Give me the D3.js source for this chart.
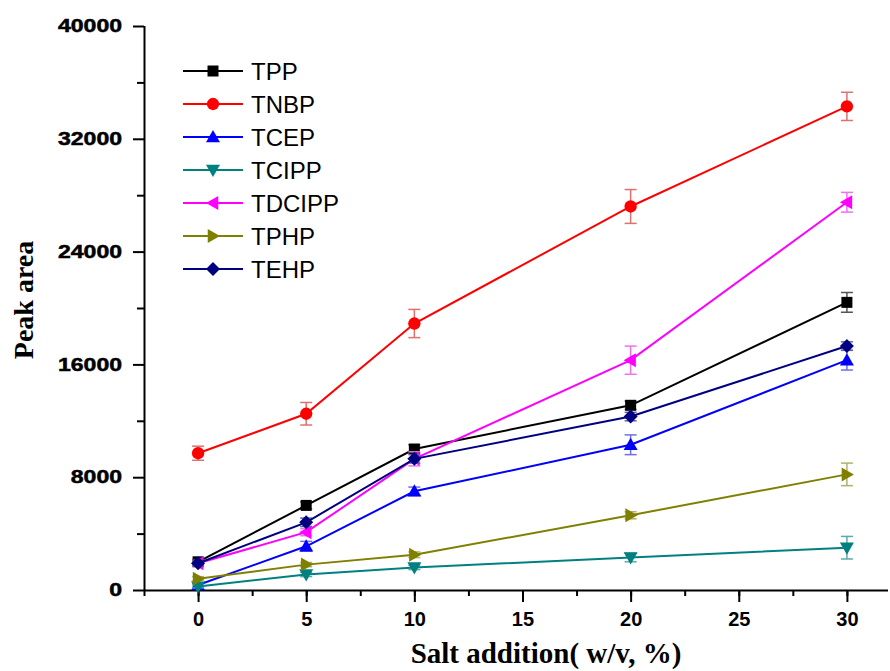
<!DOCTYPE html>
<html>
<head>
<meta charset="utf-8">
<script src="https://cdn.jsdelivr.net/npm/d3@7"></script>
<style>
  body { margin: 0; background: #fff; }
  .tick text { font-family: "Liberation Sans", Arial, sans-serif; font-weight: bold; }
</style>
</head>
<body>
<svg width="890" height="671"></svg>
<script>
// salt addition (w/v, %)
const salt = [0, 5, 10, 20, 30];

const seriesNames = ["TPP", "TNBP", "TCEP", "TCIPP", "TDCIPP", "TPHP", "TEHP"];

// peak areas
const TPP    = [2000, 6000, 10000, 13100, 20400];
const TNBP   = [9700, 12500, 18900, 27200, 34300];
const TCEP   = [350, 3100, 7000, 10300, 16300];
const TCIPP  = [250, 1100, 1600, 2300, 3000];
const TDCIPP = [1900, 4100, 9300, 16300, 27500];
const TPHP   = [800, 1800, 2500, 5300, 8200];
const TEHP   = [1900, 4800, 9300, 12300, 17300];

// error bar half-widths
const TPP_err    = [150, 250, 300, 300, 700];
const TNBP_err   = [500, 800, 1000, 1200, 1000];
const TCEP_err   = [150, 350, 300, 700, 700];
const TCIPP_err  = [100, 150, 150, 300, 800];
const TDCIPP_err = [200, 250, 500, 1000, 700];
const TPHP_err   = [150, 150, 200, 250, 800];
const TEHP_err   = [200, 300, 300, 300, 300];

const xTicks = [0, 5, 10, 15, 20, 25, 30];
const yTicks = [0, 8000, 16000, 24000, 32000, 40000];

const colors = ["#000000", "#ff0000", "#0000ff", "#008080", "#ff00ff", "#808000", "#000080"];
const errColors = ["#555555", "#e07070", "#7070e0", "#60a8a8", "#f070f0", "#b0b070", "#6060b0"];
const shapes = ["square", "circle", "up", "down", "left", "right", "diamond"];

const values = [TPP, TNBP, TCEP, TCIPP, TDCIPP, TPHP, TEHP];
const errs = [TPP_err, TNBP_err, TCEP_err, TCIPP_err, TDCIPP_err, TPHP_err, TEHP_err];

const series = seriesNames.map((name, i) => ({
  name, color: colors[i], errColor: errColors[i], shape: shapes[i],
  points: salt.map((s, j) => ({ x: s, y: values[i][j], e: errs[i][j] }))
}));

const svg = d3.select("svg");
const mLeft = 144, mRight = 888, mTop = 26, mBottom = 590;

const x = d3.scaleLinear().domain([-2.5, 31.9]).range([mLeft, mRight]);
const y = d3.scaleLinear().domain([0, 40000]).range([mBottom, mTop]);

function markerPath(shape) {
  const r = 7;
  switch (shape) {
    case "square": return "M-5.5,-5.5H5.5V5.5H-5.5Z";
    case "circle": return d3.symbol(d3.symbolCircle, 120)();
    case "up": return `M0,${-r}L${r},${r * 0.75}L${-r},${r * 0.75}Z`;
    case "down": return `M0,${r}L${r},${-r * 0.75}L${-r},${-r * 0.75}Z`;
    case "left": return `M${-r},0L${r * 0.75},${-r}L${r * 0.75},${r}Z`;
    case "right": return `M${r},0L${-r * 0.75},${-r}L${-r * 0.75},${r}Z`;
    case "diamond": return `M0,${-r}L${r},0L0,${r}L${-r},0Z`;
  }
}

// axes
const xAxisMinor = d3.axisBottom(x).tickValues(d3.range(-2.5, 32, 2.5)).tickSize(6).tickFormat("");
const xAxis = d3.axisBottom(x).tickValues(xTicks).tickSize(12).tickPadding(10).tickFormat(d3.format("d"));
const yAxisMinor = d3.axisLeft(y).tickValues(d3.range(4000, 40000, 8000)).tickSize(7).tickFormat("");
const yAxis = d3.axisLeft(y).tickValues(yTicks).tickSize(11).tickPadding(11).tickFormat(d3.format("d"));

svg.append("g").attr("transform", `translate(0,${mBottom})`).call(xAxisMinor)
  .call(g => g.select(".domain").remove());
const gx = svg.append("g").attr("transform", `translate(0,${mBottom})`).call(xAxis);
gx.select(".domain").attr("d", `M${mLeft},0.5H${mRight}`);
gx.selectAll(".tick text").style("font-size", "20px");

svg.append("g").attr("transform", `translate(${mLeft},0)`).call(yAxisMinor)
  .call(g => g.select(".domain").remove());
const gy = svg.append("g").attr("transform", `translate(${mLeft},0)`).call(yAxis);
gy.select(".domain").attr("d", `M0.5,${mBottom}V${mTop}`);
// the y labels are drawn in a wide, heavy face
gy.selectAll(".tick text")
  .style("font-size", "18px")
  .attr("stroke", "#000").attr("stroke-width", 0.5)
  .attr("textLength", d => String(d).length * 12.8)
  .attr("lengthAdjust", "spacingAndGlyphs");
svg.selectAll(".domain, .tick line").attr("stroke", "#000").attr("stroke-width", 2);

svg.append("text")
  .attr("x", 546).attr("y", 663)
  .attr("text-anchor", "middle")
  .style("font-family", "'Liberation Serif', 'Times New Roman', serif")
  .style("font-weight", "bold").style("font-size", "29px")
  .text("Salt addition( w/v, %)");

svg.append("text")
  .attr("transform", `translate(33,300) rotate(-90)`)
  .attr("text-anchor", "middle")
  .style("font-family", "'Liberation Serif', 'Times New Roman', serif")
  .style("font-weight", "bold").style("font-size", "28px")
  .text("Peak area");

const line = d3.line().x(d => x(d.x)).y(d => y(d.y));

const sg = svg.selectAll("g.series").data(series).join("g").attr("class", "series");

// error bars
sg.each(function (s) {
  const g = d3.select(this);
  s.points.forEach(p => {
    const eg = g.append("g").attr("stroke", s.errColor).attr("stroke-width", 1.5);
    eg.append("line").attr("x1", x(p.x)).attr("x2", x(p.x)).attr("y1", y(p.y - p.e)).attr("y2", y(p.y + p.e));
    eg.append("line").attr("x1", x(p.x) - 6).attr("x2", x(p.x) + 6).attr("y1", y(p.y - p.e)).attr("y2", y(p.y - p.e));
    eg.append("line").attr("x1", x(p.x) - 6).attr("x2", x(p.x) + 6).attr("y1", y(p.y + p.e)).attr("y2", y(p.y + p.e));
  });
});

sg.append("path")
  .attr("d", s => line(s.points))
  .attr("fill", "none")
  .attr("stroke", s => s.color)
  .attr("stroke-width", 2);

sg.each(function (s) {
  d3.select(this).selectAll("path.mk").data(s.points).join("path")
    .attr("class", "mk")
    .attr("d", markerPath(s.shape))
    .attr("transform", p => `translate(${x(p.x)},${y(p.y)})`)
    .attr("fill", s.color);
});

// legend
const legend = svg.append("g").attr("transform", "translate(183,71)");
const lg = legend.selectAll("g").data(series).join("g")
  .attr("transform", (d, i) => `translate(0,${i * 33})`);
lg.append("line").attr("x1", 0).attr("x2", 60).attr("stroke", d => d.color).attr("stroke-width", 2);
lg.append("path").attr("d", d => markerPath(d.shape)).attr("transform", "translate(30,0)").attr("fill", d => d.color);
lg.append("text").attr("x", 68).attr("y", 9)
  .style("font-family", "'Liberation Sans', Arial, sans-serif").style("font-size", "24px")
  .text(d => d.name);
</script>
</body>
</html>
